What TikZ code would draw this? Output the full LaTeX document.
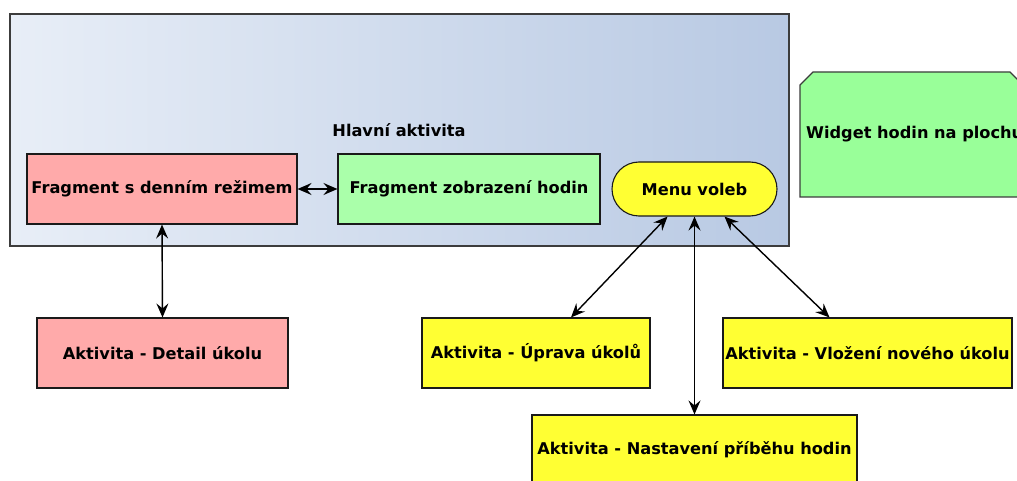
\documentclass[tikz,border=0pt]{standalone}
\usepackage{fontspec}
\setmainfont{DejaVu Sans}
\usetikzlibrary{arrows.meta,shapes.misc}
\definecolor{pinkf}{HTML}{FFAAAA}
\definecolor{greenf}{HTML}{AAFFAA}
\definecolor{widgetf}{HTML}{99FF99}
\definecolor{yellowf}{HTML}{FFFF33}
\definecolor{contL}{HTML}{E8EEF7}
\definecolor{contR}{HTML}{B8C9E3}
\definecolor{edge}{HTML}{1A1A1A}
\tikzset{
  box/.style={draw=edge,line width=1.1pt,inner sep=0pt,align=center,font=\bfseries\fontsize{16.2}{19}\selectfont},
  conn/.style={line width=1.4pt,{Stealth[length=14pt,width=12pt,inset=5pt]}-{Stealth[length=14pt,width=12pt,inset=5pt]}},
  lbl/.style={inner sep=0pt,font=\bfseries\fontsize{16.2}{19}\selectfont}
}
\begin{document}
\begin{tikzpicture}[x=1pt,y=-1pt]
\useasboundingbox (0,0) rectangle (1017,481);
\clip (0,0) rectangle (1017,481);
% main activity container
\draw[draw=edge!85,line width=1.1pt,left color=contL,right color=contR] (10,14) rectangle (789,246);
\node[lbl] (hlavni) at (399,130) {Hlavní aktivita};
% fragments
\node[box,fill=pinkf,minimum width=270pt,minimum height=70pt] (frag1) at (162,189) {Fragment s denním režimem};
\node[box,fill=greenf,minimum width=262pt,minimum height=70pt] (frag2) at (469,189) {Fragment zobrazení hodin};
\node[box,fill=yellowf,rounded rectangle,minimum width=165pt,minimum height=54pt] (menu) at (694.5,189) {Menu voleb};
% widget
\draw[draw=edge!85,line width=1.1pt,fill=widgetf] (800,197) -- (800,85) -- (813,72) -- (1010,72) -- (1022,84) -- (1022,197) -- cycle;
\node[lbl,anchor=west] (widget) at (806,134) {Widget hodin na plochu};
% activities
\node[box,fill=pinkf,minimum width=251pt,minimum height=70pt] (detail) at (162.5,353) {Aktivita - Detail úkolu};
\node[box,fill=yellowf,minimum width=228pt,minimum height=70pt] (uprava) at (536,353) {Aktivita - Úprava úkolů};
\node[box,fill=yellowf,minimum width=289pt,minimum height=70pt] (vlozeni) at (867.5,353) {Aktivita - Vložení nového úkolu};
\node[box,fill=yellowf,minimum width=325pt,minimum height=70pt] (nastav) at (694.5,450) {Aktivita - Nastavení příběhu hodin};
% connectors
\draw[conn] (frag1.east) -- (frag2.west);
\draw[conn] (frag1.south) -- (detail.north);
\draw[conn] ([xshift=-27pt]menu.south) -- ([xshift=35pt]uprava.north);
\draw[conn] (menu.south) -- (nastav.north);
\draw[conn] ([xshift=30pt]menu.south) -- ([xshift=-38pt]vlozeni.north);
\end{tikzpicture}
\end{document}
